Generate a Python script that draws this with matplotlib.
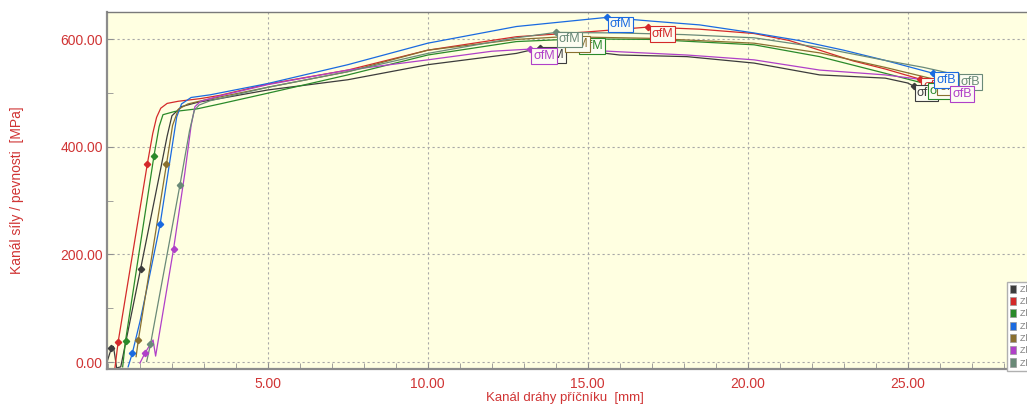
import matplotlib

matplotlib.use("Agg")
import matplotlib.pyplot as plt
from matplotlib.patches import Patch
from matplotlib.ticker import MultipleLocator, FormatStrFormatter

plt.rcParams["font.family"] = ["Liberation Sans", "DejaVu Sans"]

# specimen curves (stroj: posuv [mm], napeti [MPa])
NAMES = ["Zk 1", "Zk 2", "Zk 3", "Zk 4", "Zk 5", "Zk 6", "Zk 7"]
COLORS = ["#3c3c3c", "#d42a2a", "#2a8a2a", "#1a6ae0", "#8a7030", "#b040c8", "#6a8a78"]

X_ZK1 = [-0.03, 0.11, 0.17, 0.22, 0.27, 0.40, 1.02, 1.60, 1.85, 2.00, 2.30, 2.80, 3.50, 5.00,
         7.50, 10.0, 12.77, 13.5, 15.0, 16.0, 18.1, 20.2, 22.25, 24.3, 25.0, 25.2]
Y_ZK1 = [0, 26, 29, 10, -11, -9, 173, 345, 420, 458, 475, 483, 490, 506,
         525, 553, 574, 584, 578, 571, 568, 556, 534, 528, 519, 513]

X_ZK2 = [0.22, 0.32, 0.80, 1.23, 1.40, 1.52, 1.65, 1.85, 2.20, 2.90, 3.50, 5.00, 7.50, 10.0,
         12.77, 15.0, 16.9, 18.5, 20.2, 21.3, 22.25, 23.3, 24.3, 25.4]
Y_ZK2 = [-10, 38, 212, 368, 425, 455, 472, 481, 485, 490, 496, 517, 543, 580,
         605, 614, 623, 619, 611, 598, 580, 560, 545, 526]

X_ZK3 = [0.46, 0.55, 1.00, 1.44, 1.60, 1.72, 2.09, 2.80, 3.50, 5.00, 7.50, 10.0, 12.77, 14.7,
         17.0, 20.2, 22.25, 24.3, 25.6]
Y_ZK3 = [-9, 40, 214, 384, 438, 460, 466, 471, 480, 500, 534, 571, 596, 601,
         600, 590, 568, 537, 517]

X_ZK4 = [0.63, 0.76, 1.00, 1.30, 1.63, 1.90, 2.15, 2.30, 2.60, 3.20, 5.00, 7.50, 10.0, 12.77,
         15.6, 17.0, 18.5, 20.2, 21.6, 23.0, 24.3, 25.8]
Y_ZK4 = [-9, 16, 75, 160, 256, 360, 456, 480, 492, 497, 518, 553, 593, 624,
         641, 634, 627, 612, 598, 580, 561, 537]

X_ZK5 = [0.88, 0.95, 1.40, 1.83, 2.02, 2.20, 2.50, 3.00, 5.00, 7.50, 10.0, 12.77, 14.25, 17.0,
         20.2, 22.25, 24.3, 25.9]
Y_ZK5 = [10, 41, 208, 368, 440, 470, 480, 487, 511, 540, 580, 600, 605, 602,
         593, 575, 548, 525]

X_ZK6 = [1.00, 1.16, 1.41, 1.49, 2.05, 2.40, 2.60, 2.72, 2.90, 3.50, 5.00, 7.50, 10.0, 12.0,
         13.2, 15.0, 16.0, 18.1, 20.2, 22.25, 24.3, 25.5, 26.3]
Y_ZK6 = [-2, 17, 41, 11, 210, 350, 440, 475, 485, 495, 516, 543, 562, 578,
         582, 580, 577, 571, 562, 543, 534, 525, 512]

X_ZK7 = [1.21, 1.33, 1.60, 2.25, 2.55, 2.70, 2.85, 3.20, 5.00, 7.50, 10.0, 12.77, 14.0, 16.0,
         18.0, 20.2, 22.25, 24.3, 25.5, 26.56]
Y_ZK7 = [1, 33, 120, 329, 430, 468, 478, 486, 511, 540, 574, 603, 613, 612,
         609, 603, 585, 561, 548, 534]

CURVES_X = [X_ZK1, X_ZK2, X_ZK3, X_ZK4, X_ZK5, X_ZK6, X_ZK7]
CURVES_Y = [Y_ZK1, Y_ZK2, Y_ZK3, Y_ZK4, Y_ZK5, Y_ZK6, Y_ZK7]

# elastic-range markers (two per specimen)
ELAST_X = [[0.11, 1.02], [0.32, 1.23], [0.55, 1.44], [0.76, 1.63], [0.95, 1.83], [1.16, 2.05], [1.33, 2.25]]
ELAST_Y = [[26, 173], [38, 368], [40, 384], [16, 256], [41, 368], [17, 210], [33, 329]]

# sigma fM (max) and sigma fB (break)
PEAK_X = [13.5, 16.9, 14.7, 15.6, 14.25, 13.2, 14.0]
PEAK_Y = [584, 623, 601, 641, 605, 582, 613]
BREAK_X = [25.2, 25.4, 25.6, 25.8, 25.9, 26.3, 26.56]
BREAK_Y = [513, 526, 517, 537, 525, 512, 534]

PEAK_Z = [5, 5, 4, 5, 5, 6, 6]
BREAK_Z = [6, 5, 7, 8, 7.5, 10, 9]

RED = "#d03434"
BG = "#ffffe1"

fig = plt.figure(figsize=(10.27, 4.07), dpi=100)
ax = fig.add_axes([107 / 1027, 38 / 407, 940 / 1027, 357 / 407])
ax.set_facecolor(BG)

for i in range(len(NAMES)):
    c = COLORS[i]
    ax.plot(CURVES_X[i], CURVES_Y[i], color=c, lw=0.9, zorder=2)
    ax.plot(ELAST_X[i], ELAST_Y[i], ls="none", marker="D", ms=3.2, color=c, zorder=3)
    ax.plot([PEAK_X[i], BREAK_X[i]], [PEAK_Y[i], BREAK_Y[i]], ls="none", marker="D", ms=3.2, color=c, zorder=3)

    box = dict(boxstyle="square,pad=0.15", fc="#fdfdf2", ec=c, lw=0.8)
    ax.annotate("σfM", (PEAK_X[i], PEAK_Y[i]), xytext=(3, -1), textcoords="offset pixels",
                ha="left", va="top", fontsize=9, color=c, bbox=box, zorder=PEAK_Z[i])
    ax.annotate("σfB", (BREAK_X[i], BREAK_Y[i]), xytext=(3, -1), textcoords="offset pixels",
                ha="left", va="top", fontsize=9, color=c, bbox=dict(box), zorder=BREAK_Z[i])

ax.set_xlim(-0.03, 29.36)
ax.set_ylim(-13, 651)
ax.xaxis.set_major_locator(MultipleLocator(5))
ax.xaxis.set_minor_locator(MultipleLocator(1))
ax.yaxis.set_major_locator(MultipleLocator(200))
ax.yaxis.set_minor_locator(MultipleLocator(100))
ax.xaxis.set_major_formatter(FormatStrFormatter("%.2f"))
ax.yaxis.set_major_formatter(FormatStrFormatter("%.2f"))
ax.set_xticks([5, 10, 15, 20, 25])

ax.tick_params(which="both", direction="in", length=4, color="#909090", labelcolor=RED,
               labelsize=10, top=False, right=False)
ax.tick_params(axis="x", which="major", pad=6)
ax.tick_params(axis="y", which="major", pad=3)

ax.grid(True, which="major", ls=(0, (2, 2.5)), color="#a8a8a8", lw=0.8, zorder=1)
ax.yaxis.get_gridlines()[0].set_visible(False)

for side in ("left", "bottom"):
    ax.spines[side].set_color("#8c8c8c")
    ax.spines[side].set_linewidth(1.6)
ax.spines["top"].set_color("#7a7a7a")
ax.spines["top"].set_linewidth(1.0)
ax.spines["right"].set_visible(False)

fig.text(17 / 1027, 1 - 190 / 407, "Kanál síly / pevnosti  [MPa]", rotation=90,
         ha="center", va="center", color=RED, fontsize=10)
fig.text(565 / 1027, 1 - 398 / 407, "Kanál dráhy příčníku  [mm]",
         ha="center", va="center", color=RED, fontsize=9.5)

handles = [Patch(facecolor=c, edgecolor="#9a9a9a", lw=0.5) for c in COLORS]
fig.legend(handles, NAMES, loc="upper left", bbox_to_anchor=(1002 / 1027, 1 - 277 / 407),
           fontsize=6.5, handlelength=0.7, handleheight=1.0, handletextpad=0.4,
           borderpad=0.35, labelspacing=0.35, fancybox=False, framealpha=1,
           edgecolor="#b0b0b0", labelcolor="#808080")

fig.savefig("out.png", dpi=100)
